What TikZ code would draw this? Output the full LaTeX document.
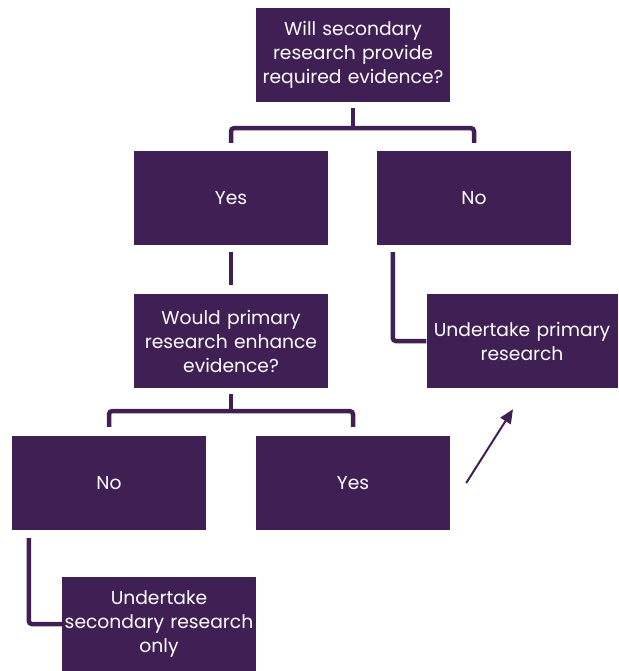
\documentclass[tikz,border=0pt]{standalone}
\usepackage{fontspec}
\setmainfont{Poppins}
\usetikzlibrary{arrows.meta,positioning}
\definecolor{deeppurple}{RGB}{64,31,85}

\begin{document}
\begin{tikzpicture}[
    x=1pt, y=1pt,
    every node/.style={fill=deeppurple, text=white, minimum height=94pt, text width=188pt,
        inner sep=3pt, align=center, font=\fontsize{18.7}{24}\selectfont},
    link/.style={draw=deeppurple, line width=4.5pt, rounded corners=3pt},
    pointer/.style={draw=deeppurple, line width=2pt, -{Triangle[length=14pt,width=12pt]}}
]
\useasboundingbox (0,0) rectangle (618,-671);

% Question boxes
\node (secq) at (353,-55) {Will secondary\\research provide\\required evidence?};
\node (yesa) at (231,-198) {Yes};
\node (noa) at (474,-198) {No};
\node (primq) at (231,-341) {Would primary\\research enhance\\evidence?};
\node[text width=185pt] (primres) at (522,-341) {Undertake primary\\research};

% Second level
\node (nob) at (109,-483) {No};
\node (yesb) at (353,-483) {Yes};
\node[text width=194pt, inner sep=0pt] (secres) at (159,-624) {Undertake\\secondary research\\only};

% Connections
\draw[link] ([yshift=-6pt]secq.south) -- ([yshift=-26pt]secq.south);
\draw[link] ([yshift=8pt]yesa.north) |- ([yshift=-26pt]secq.south) -| ([yshift=8pt]noa.north);

\draw[link] ([yshift=-7pt]yesa.south) -- ([yshift=9pt]primq.north);
\draw[link] ([xshift=16pt,yshift=-7pt]noa.south west) |- (primres.west);

\draw[link] ([yshift=-6pt]primq.south) -- ([yshift=-23pt]primq.south);
\draw[link] ([yshift=9pt]nob.north) |- ([yshift=-23pt]primq.south) -| ([yshift=9pt]yesb.north);

\draw[link] ([xshift=17pt,yshift=-8pt]nob.south west) |- (secres.west);
\draw[pointer] ([xshift=16pt]yesb.east) -- ([xshift=-9pt,yshift=-21pt]primres.south);

\end{tikzpicture}
\end{document}
